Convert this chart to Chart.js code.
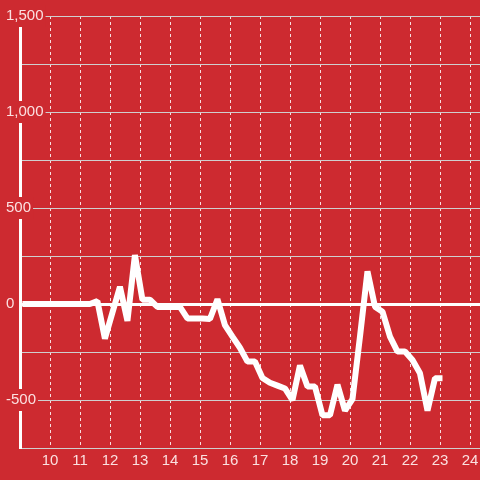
<!DOCTYPE html>
<html>
<head>
<meta charset="utf-8">
<script src="https://cdn.jsdelivr.net/npm/chart.js@4.4.1/dist/chart.umd.min.js"></script>
<style>
  html, body { margin: 0; padding: 0; background: #cd2a30; }
  #wrap { width: 480px; height: 480px; }
</style>
</head>
<body>
<div id="wrap"><canvas id="chart"></canvas></div>
<script>
// Horas (eixo x) e valores
const hours = [
    9.08, 9.33, 9.58, 9.83, 10.08, 10.33, 10.58, 10.83, 11.08, 11.33,
    11.58, 11.83, 12.08, 12.33, 12.58, 12.83, 13.08, 13.33, 13.58, 13.83,
    14.08, 14.33, 14.58, 14.83, 15.08, 15.33, 15.58, 15.83, 16.08, 16.33,
    16.58, 16.83, 17.08, 17.33, 17.58, 17.83, 18.08, 18.33, 18.58, 18.83,
    19.08, 19.33, 19.58, 19.83, 20.08, 20.33, 20.58, 20.83, 21.08, 21.33,
    21.58, 21.83, 22.08, 22.33, 22.58, 22.83, 23.08
];

const values = [
    0, 0, 0, 0, 0, 0, 0, 0, 0, 0,
    15, -180, -45, 90, -88, 255, 22, 22, -15, -15,
    -15, -15, -75, -75, -75, -78, 25, -110, -170, -228,
    -300, -300, -385, -410, -425, -440, -500, -320, -430, -430,
    -580, -580, -420, -555, -495, -170, 170, -14, -40, -170,
    -248, -248, -292, -361, -555, -387, -387
];

// Marcas dos eixos
const xTicks = [10, 11, 12, 13, 14, 15, 16, 17, 18, 19, 20, 21, 22, 23, 24];
const yLabelTicks = [-500, 0, 500, 1000, 1500];

const bg = '#cd2a30';
const gridGrey = '#cfcfcf';
const labelColor = 'rgba(255,240,240,0.92)';

const points = hours.map((h, i) => ({ x: h, y: values[i] }));

const ctx = document.getElementById('chart').getContext('2d');
new Chart(ctx, {
    type: 'line',
    data: {
        datasets: [{
            data: points,
            borderColor: '#ffffff',
            borderWidth: 6,
            borderJoinStyle: 'bevel',
            pointRadius: 0,
            tension: 0,
            fill: false
        }]
    },
    options: {
        responsive: true,
        maintainAspectRatio: false,
        animation: false,
        layout: { padding: { top: 16, right: 0, left: 0, bottom: 0 } },
        plugins: {
            legend: { display: false },
            tooltip: { enabled: false }
        },
        scales: {
            x: {
                type: 'linear',
                min: 9,
                max: 24.33,
                afterFit: function(scale) {
                    scale.height = 32;
                    scale.paddingLeft = 0;
                    scale.paddingRight = 0;
                },
                afterBuildTicks: function(scale) {
                    scale.ticks = xTicks.map(v => ({ value: v }));
                },
                grid: {
                    color: 'rgba(255,255,255,0.85)',
                    lineWidth: 1,
                    drawTicks: false
                },
                // no v4 o "dash" da borda vale para as linhas de grade
                border: { color: gridGrey, width: 1, dash: [3, 3] },
                ticks: {
                    color: labelColor,
                    padding: 4,
                    font: { family: 'Liberation Sans', size: 15 },
                    maxRotation: 0
                }
            },
            y: {
                type: 'linear',
                min: -750,
                max: 1500,
                afterFit: function(scale) {
                    scale.width = 20;
                    scale.paddingTop = 0;
                    scale.paddingBottom = 0;
                },
                afterBuildTicks: function(scale) {
                    const t = [];
                    for (let v = -750; v <= 1500; v += 250) t.push({ value: v });
                    scale.ticks = t;
                },
                border: { color: '#ffffff', width: 3 },
                grid: {
                    drawTicks: false,
                    color: function(c) {
                        return c.tick && c.tick.value === 0 ? '#ffffff' : gridGrey;
                    },
                    lineWidth: function(c) {
                        return c.tick && c.tick.value === 0 ? 3 : 1;
                    }
                },
                ticks: {
                    mirror: true,
                    padding: -14,
                    color: labelColor,
                    font: { family: 'Liberation Sans', size: 15 },
                    showLabelBackdrop: function(c) {
                        return c.tick && yLabelTicks.includes(c.tick.value);
                    },
                    backdropColor: bg,
                    backdropPadding: 2,
                    callback: function(v) {
                        return yLabelTicks.includes(v) ? v.toLocaleString('en-US') : '';
                    }
                }
            }
        }
    }
});
</script>
</body>
</html>
